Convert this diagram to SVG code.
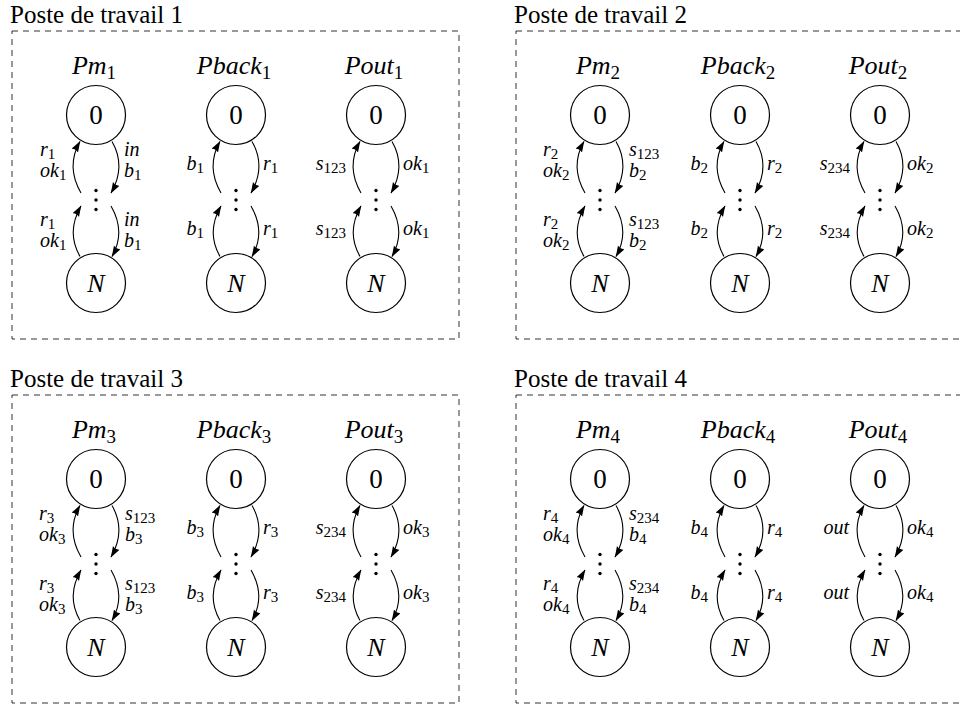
<svg xmlns="http://www.w3.org/2000/svg" width="960" height="704" viewBox="0 0 960 704">
<style>
.t{font-family:"Liberation Serif","Times New Roman","DejaVu Serif",serif;font-size:25px;fill:#000}
.h{font-family:"Liberation Serif","Times New Roman","DejaVu Serif",serif;font-style:italic;font-size:26px;text-anchor:middle;fill:#000}
.hs{font-size:19px;font-style:normal}
.n circle{fill:#fff;stroke:#000;stroke-width:1.2}
.z{font-family:"Liberation Serif","Times New Roman","DejaVu Serif",serif;font-size:27px;text-anchor:middle;fill:#000}
.zi{font-style:italic;font-size:26px}
.l{font-family:"Liberation Serif","Times New Roman","DejaVu Serif",serif;font-style:italic;font-size:20px;fill:#000}
.ls{font-size:15px;font-style:normal}
.e{text-anchor:end}
.box{fill:none;stroke:#333;stroke-width:1;stroke-dasharray:6 5}
</style>
<defs>
<marker id="ah" markerUnits="userSpaceOnUse" markerWidth="12" markerHeight="9" refX="10.5" refY="3.75" orient="auto">
<path d="M0,0 L11,3.75 L0,7.5 Q2,3.75 0,0 z" fill="#000"/>
</marker>
<g id="arcs" fill="none" stroke="#000" stroke-width="1.1">
<path d="M-15,193 C-24.8,176 -25.8,158.5 -16,141.5" marker-end="url(#ah)"/>
<path d="M16,141.5 C25.8,158.5 24.8,176 15,193" marker-end="url(#ah)"/>
<path d="M-16,256.5 C-25.8,239.5 -24.8,223 -15,206" marker-end="url(#ah)"/>
<path d="M15,206 C24.8,223 25.8,239.5 16,256.5" marker-end="url(#ah)"/>
</g>
<g id="vd" fill="#000"><circle cx="0" cy="190.5" r="1.7"/><circle cx="0" cy="200" r="1.7"/><circle cx="0" cy="209.5" r="1.7"/></g>
</defs>

<g id="frames">
<rect class="box" x="12" y="31" width="447" height="308"/>
<rect class="box" x="516" y="31" width="447" height="308"/>
<rect class="box" x="12" y="395" width="447" height="308"/>
<rect class="box" x="516" y="395" width="447" height="308"/>
<text class="t" x="10" y="23">Poste de travail 1</text>
<text class="t" x="514" y="23">Poste de travail 2</text>
<text class="t" x="10" y="387">Poste de travail 3</text>
<text class="t" x="514" y="387">Poste de travail 4</text>
</g>

<g id="connectors">
<use href="#arcs" transform="translate(96,0)"/>
<use href="#arcs" transform="translate(236,0)"/>
<use href="#arcs" transform="translate(376,0)"/>
<use href="#arcs" transform="translate(600,0)"/>
<use href="#arcs" transform="translate(740,0)"/>
<use href="#arcs" transform="translate(880,0)"/>
<use href="#arcs" transform="translate(96,364)"/>
<use href="#arcs" transform="translate(236,364)"/>
<use href="#arcs" transform="translate(376,364)"/>
<use href="#arcs" transform="translate(600,364)"/>
<use href="#arcs" transform="translate(740,364)"/>
<use href="#arcs" transform="translate(880,364)"/>
</g>

<g id="edge-labels" class="l">
<g transform="translate(96,0)">
<text x="-56" y="156">r<tspan class="ls" dy="3">1</tspan></text>
<text x="-56" y="177">ok<tspan class="ls" dy="3">1</tspan></text>
<text x="28" y="156">in</text>
<text x="28" y="177">b<tspan class="ls" dy="3">1</tspan></text>
<text x="-56" y="226">r<tspan class="ls" dy="3">1</tspan></text>
<text x="-56" y="247">ok<tspan class="ls" dy="3">1</tspan></text>
<text x="28" y="226">in</text>
<text x="28" y="247">b<tspan class="ls" dy="3">1</tspan></text>
</g>
<g transform="translate(236,0)">
<text class="e" x="-32" y="170">b<tspan class="ls" dy="3">1</tspan></text>
<text x="27" y="170">r<tspan class="ls" dy="3">1</tspan></text>
<text class="e" x="-32" y="235">b<tspan class="ls" dy="3">1</tspan></text>
<text x="27" y="235">r<tspan class="ls" dy="3">1</tspan></text>
</g>
<g transform="translate(376,0)">
<text class="e" x="-30" y="170">s<tspan class="ls" dy="3">123</tspan></text>
<text x="27" y="170">ok<tspan class="ls" dy="3">1</tspan></text>
<text class="e" x="-30" y="235">s<tspan class="ls" dy="3">123</tspan></text>
<text x="27" y="235">ok<tspan class="ls" dy="3">1</tspan></text>
</g>
<g transform="translate(600,0)">
<text x="-57" y="156">r<tspan class="ls" dy="3">2</tspan></text>
<text x="-57" y="177">ok<tspan class="ls" dy="3">2</tspan></text>
<text x="29" y="156">s<tspan class="ls" dy="3">123</tspan></text>
<text x="29" y="177">b<tspan class="ls" dy="3">2</tspan></text>
<text x="-57" y="226">r<tspan class="ls" dy="3">2</tspan></text>
<text x="-57" y="247">ok<tspan class="ls" dy="3">2</tspan></text>
<text x="29" y="226">s<tspan class="ls" dy="3">123</tspan></text>
<text x="29" y="247">b<tspan class="ls" dy="3">2</tspan></text>
</g>
<g transform="translate(740,0)">
<text class="e" x="-32" y="170">b<tspan class="ls" dy="3">2</tspan></text>
<text x="27" y="170">r<tspan class="ls" dy="3">2</tspan></text>
<text class="e" x="-32" y="235">b<tspan class="ls" dy="3">2</tspan></text>
<text x="27" y="235">r<tspan class="ls" dy="3">2</tspan></text>
</g>
<g transform="translate(880,0)">
<text class="e" x="-30" y="170">s<tspan class="ls" dy="3">234</tspan></text>
<text x="27" y="170">ok<tspan class="ls" dy="3">2</tspan></text>
<text class="e" x="-30" y="235">s<tspan class="ls" dy="3">234</tspan></text>
<text x="27" y="235">ok<tspan class="ls" dy="3">2</tspan></text>
</g>
<g transform="translate(96,364)">
<text x="-57" y="156">r<tspan class="ls" dy="3">3</tspan></text>
<text x="-57" y="177">ok<tspan class="ls" dy="3">3</tspan></text>
<text x="29" y="156">s<tspan class="ls" dy="3">123</tspan></text>
<text x="29" y="177">b<tspan class="ls" dy="3">3</tspan></text>
<text x="-57" y="226">r<tspan class="ls" dy="3">3</tspan></text>
<text x="-57" y="247">ok<tspan class="ls" dy="3">3</tspan></text>
<text x="29" y="226">s<tspan class="ls" dy="3">123</tspan></text>
<text x="29" y="247">b<tspan class="ls" dy="3">3</tspan></text>
</g>
<g transform="translate(236,364)">
<text class="e" x="-32" y="170">b<tspan class="ls" dy="3">3</tspan></text>
<text x="27" y="170">r<tspan class="ls" dy="3">3</tspan></text>
<text class="e" x="-32" y="235">b<tspan class="ls" dy="3">3</tspan></text>
<text x="27" y="235">r<tspan class="ls" dy="3">3</tspan></text>
</g>
<g transform="translate(376,364)">
<text class="e" x="-30" y="170">s<tspan class="ls" dy="3">234</tspan></text>
<text x="27" y="170">ok<tspan class="ls" dy="3">3</tspan></text>
<text class="e" x="-30" y="235">s<tspan class="ls" dy="3">234</tspan></text>
<text x="27" y="235">ok<tspan class="ls" dy="3">3</tspan></text>
</g>
<g transform="translate(600,364)">
<text x="-57" y="156">r<tspan class="ls" dy="3">4</tspan></text>
<text x="-57" y="177">ok<tspan class="ls" dy="3">4</tspan></text>
<text x="29" y="156">s<tspan class="ls" dy="3">234</tspan></text>
<text x="29" y="177">b<tspan class="ls" dy="3">4</tspan></text>
<text x="-57" y="226">r<tspan class="ls" dy="3">4</tspan></text>
<text x="-57" y="247">ok<tspan class="ls" dy="3">4</tspan></text>
<text x="29" y="226">s<tspan class="ls" dy="3">234</tspan></text>
<text x="29" y="247">b<tspan class="ls" dy="3">4</tspan></text>
</g>
<g transform="translate(740,364)">
<text class="e" x="-32" y="170">b<tspan class="ls" dy="3">4</tspan></text>
<text x="27" y="170">r<tspan class="ls" dy="3">4</tspan></text>
<text class="e" x="-32" y="235">b<tspan class="ls" dy="3">4</tspan></text>
<text x="27" y="235">r<tspan class="ls" dy="3">4</tspan></text>
</g>
<g transform="translate(880,364)">
<text class="e" x="-31" y="170">out</text>
<text x="27" y="170">ok<tspan class="ls" dy="3">4</tspan></text>
<text class="e" x="-31" y="235">out</text>
<text x="27" y="235">ok<tspan class="ls" dy="3">4</tspan></text>
</g>
</g>

<g id="headers" class="h">
<text x="94" y="74">Pm<tspan class="hs" dy="5">1</tspan></text>
<text x="234" y="74">Pback<tspan class="hs" dy="5">1</tspan></text>
<text x="374" y="74">Pout<tspan class="hs" dy="5">1</tspan></text>
<text x="598" y="74">Pm<tspan class="hs" dy="5">2</tspan></text>
<text x="738" y="74">Pback<tspan class="hs" dy="5">2</tspan></text>
<text x="878" y="74">Pout<tspan class="hs" dy="5">2</tspan></text>
<text x="94" y="438">Pm<tspan class="hs" dy="5">3</tspan></text>
<text x="234" y="438">Pback<tspan class="hs" dy="5">3</tspan></text>
<text x="374" y="438">Pout<tspan class="hs" dy="5">3</tspan></text>
<text x="598" y="438">Pm<tspan class="hs" dy="5">4</tspan></text>
<text x="738" y="438">Pback<tspan class="hs" dy="5">4</tspan></text>
<text x="878" y="438">Pout<tspan class="hs" dy="5">4</tspan></text>
</g>

<g id="vdots">
<use href="#vd" transform="translate(96,0)"/>
<use href="#vd" transform="translate(236,0)"/>
<use href="#vd" transform="translate(376,0)"/>
<use href="#vd" transform="translate(600,0)"/>
<use href="#vd" transform="translate(740,0)"/>
<use href="#vd" transform="translate(880,0)"/>
<use href="#vd" transform="translate(96,364)"/>
<use href="#vd" transform="translate(236,364)"/>
<use href="#vd" transform="translate(376,364)"/>
<use href="#vd" transform="translate(600,364)"/>
<use href="#vd" transform="translate(740,364)"/>
<use href="#vd" transform="translate(880,364)"/>
</g>

<g id="nodes" class="n">
<g id="p1-pm-0"><circle cx="96" cy="115" r="29.5"/><text class="z" x="96" y="124">0</text></g>
<g id="p1-pm-N"><circle cx="96" cy="283" r="29.5"/><text class="z zi" x="96" y="292">N</text></g>
<g id="p1-pback-0"><circle cx="236" cy="115" r="29.5"/><text class="z" x="236" y="124">0</text></g>
<g id="p1-pback-N"><circle cx="236" cy="283" r="29.5"/><text class="z zi" x="236" y="292">N</text></g>
<g id="p1-pout-0"><circle cx="376" cy="115" r="29.5"/><text class="z" x="376" y="124">0</text></g>
<g id="p1-pout-N"><circle cx="376" cy="283" r="29.5"/><text class="z zi" x="376" y="292">N</text></g>
<g id="p2-pm-0"><circle cx="600" cy="115" r="29.5"/><text class="z" x="600" y="124">0</text></g>
<g id="p2-pm-N"><circle cx="600" cy="283" r="29.5"/><text class="z zi" x="600" y="292">N</text></g>
<g id="p2-pback-0"><circle cx="740" cy="115" r="29.5"/><text class="z" x="740" y="124">0</text></g>
<g id="p2-pback-N"><circle cx="740" cy="283" r="29.5"/><text class="z zi" x="740" y="292">N</text></g>
<g id="p2-pout-0"><circle cx="880" cy="115" r="29.5"/><text class="z" x="880" y="124">0</text></g>
<g id="p2-pout-N"><circle cx="880" cy="283" r="29.5"/><text class="z zi" x="880" y="292">N</text></g>
<g id="p3-pm-0"><circle cx="96" cy="479" r="29.5"/><text class="z" x="96" y="488">0</text></g>
<g id="p3-pm-N"><circle cx="96" cy="647" r="29.5"/><text class="z zi" x="96" y="656">N</text></g>
<g id="p3-pback-0"><circle cx="236" cy="479" r="29.5"/><text class="z" x="236" y="488">0</text></g>
<g id="p3-pback-N"><circle cx="236" cy="647" r="29.5"/><text class="z zi" x="236" y="656">N</text></g>
<g id="p3-pout-0"><circle cx="376" cy="479" r="29.5"/><text class="z" x="376" y="488">0</text></g>
<g id="p3-pout-N"><circle cx="376" cy="647" r="29.5"/><text class="z zi" x="376" y="656">N</text></g>
<g id="p4-pm-0"><circle cx="600" cy="479" r="29.5"/><text class="z" x="600" y="488">0</text></g>
<g id="p4-pm-N"><circle cx="600" cy="647" r="29.5"/><text class="z zi" x="600" y="656">N</text></g>
<g id="p4-pback-0"><circle cx="740" cy="479" r="29.5"/><text class="z" x="740" y="488">0</text></g>
<g id="p4-pback-N"><circle cx="740" cy="647" r="29.5"/><text class="z zi" x="740" y="656">N</text></g>
<g id="p4-pout-0"><circle cx="880" cy="479" r="29.5"/><text class="z" x="880" y="488">0</text></g>
<g id="p4-pout-N"><circle cx="880" cy="647" r="29.5"/><text class="z zi" x="880" y="656">N</text></g>
</g>
</svg>
